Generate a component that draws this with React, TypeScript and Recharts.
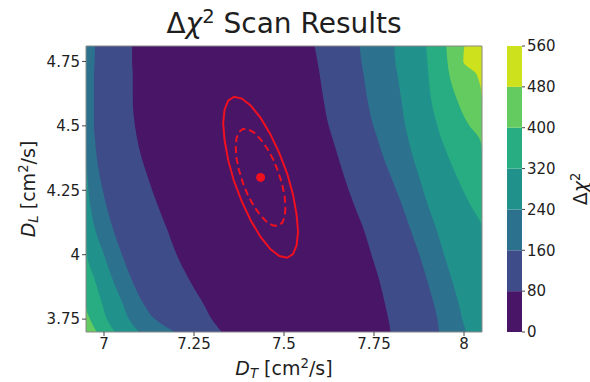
import { ComposedChart, Area, XAxis, YAxis, ScatterChart, Scatter, ReferenceArea, BarChart, Bar } from 'recharts';

const X_MIN = 6.95;
const X_MAX = 8.05;
const Y_MIN = 3.7;
const Y_MAX = 4.81;

const dtTicks = [7, 7.25, 7.5, 7.75, 8];
const dlTicks = [3.75, 4, 4.25, 4.5, 4.75];
const levels = [0, 80, 160, 240, 320, 400, 480, 560];
const bandColors = ['#481567', '#3e4c8a', '#2c728e', '#21918c', '#27ad81', '#63cb5f', '#cde11d'];

const dlRows = [4.81, 4.75, 4.7, 4.6, 4.5, 4.45, 4.4, 4.3, 4.2, 4.1, 4.0, 3.9, 3.8, 3.75, 3.7];

// D_T of each contour edge on the left side of the valley
const left80 = [7.078, 7.078, 7.08, 7.08, 7.086, 7.092, 7.1, 7.122, 7.147, 7.175, 7.202, 7.238, 7.28, 7.299, 7.327];
const left160 = [6.975, 6.974, 6.972, 6.972, 6.972, 6.975, 6.978, 6.989, 7.005, 7.025, 7.05, 7.078, 7.114, 7.141, 7.197];
const left240 = [6.95, 6.95, 6.95, 6.95, 6.95, 6.95, 6.95, 6.954, 6.961, 6.975, 7.0, 7.025, 7.055, 7.069, 7.097];
const left320 = [6.95, 6.95, 6.95, 6.95, 6.95, 6.95, 6.95, 6.95, 6.95, 6.95, 6.953, 6.975, 6.997, 7.008, 7.03];
const left400 = [6.95, 6.95, 6.95, 6.95, 6.95, 6.95, 6.95, 6.95, 6.95, 6.95, 6.95, 6.95, 6.95, 6.961, 6.98];

// D_T of each contour edge on the right side
const right80 = [7.585, 7.593, 7.599, 7.61, 7.624, 7.635, 7.646, 7.668, 7.693, 7.721, 7.743, 7.765, 7.782, 7.79, 7.796];
const right160 = [7.71, 7.715, 7.721, 7.732, 7.748, 7.76, 7.771, 7.798, 7.826, 7.851, 7.876, 7.898, 7.918, 7.926, 7.931];
const right240 = [7.807, 7.809, 7.815, 7.826, 7.837, 7.845, 7.854, 7.876, 7.898, 7.923, 7.945, 7.967, 7.987, 7.995, 8.006];
const right320 = [7.895, 7.898, 7.901, 7.909, 7.926, 7.937, 7.951, 7.981, 8.015, 8.05, 8.05, 8.05, 8.05, 8.05, 8.05];
const right400 = [7.951, 7.954, 7.959, 7.981, 8.015, 8.043, 8.05, 8.05, 8.05, 8.05, 8.05, 8.05, 8.05, 8.05, 8.05];
const right480 = [8.001, 7.998, 8.035, 8.05, 8.05, 8.05, 8.05, 8.05, 8.05, 8.05, 8.05, 8.05, 8.05, 8.05, 8.05];

const bestFit = [{ x: 7.435, y: 4.3 }];

const solidEllipse = [
  { x: 7.539, y: 4.089 }, { x: 7.535, y: 4.036 }, { x: 7.525, y: 4.002 }, { x: 7.509, y: 3.988 },
  { x: 7.487, y: 3.995 }, { x: 7.462, y: 4.022 }, { x: 7.435, y: 4.069 }, { x: 7.408, y: 4.132 },
  { x: 7.383, y: 4.206 }, { x: 7.361, y: 4.286 }, { x: 7.345, y: 4.367 }, { x: 7.335, y: 4.444 },
  { x: 7.331, y: 4.511 }, { x: 7.335, y: 4.564 }, { x: 7.345, y: 4.598 }, { x: 7.361, y: 4.613 },
  { x: 7.383, y: 4.606 }, { x: 7.408, y: 4.578 }, { x: 7.435, y: 4.531 }, { x: 7.462, y: 4.468 },
  { x: 7.487, y: 4.394 }, { x: 7.509, y: 4.314 }, { x: 7.525, y: 4.233 }, { x: 7.535, y: 4.156 },
];

const dashedEllipse = [
  { x: 7.504, y: 4.183 }, { x: 7.502, y: 4.148 }, { x: 7.495, y: 4.124 }, { x: 7.484, y: 4.112 },
  { x: 7.47, y: 4.113 }, { x: 7.453, y: 4.126 }, { x: 7.435, y: 4.152 }, { x: 7.417, y: 4.187 },
  { x: 7.4, y: 4.23 }, { x: 7.386, y: 4.278 }, { x: 7.375, y: 4.328 }, { x: 7.368, y: 4.375 },
  { x: 7.366, y: 4.417 }, { x: 7.368, y: 4.452 }, { x: 7.375, y: 4.476 }, { x: 7.386, y: 4.488 },
  { x: 7.4, y: 4.487 }, { x: 7.417, y: 4.474 }, { x: 7.435, y: 4.448 }, { x: 7.453, y: 4.413 },
  { x: 7.47, y: 4.37 }, { x: 7.484, y: 4.322 }, { x: 7.495, y: 4.273 }, { x: 7.502, y: 4.225 },
];

const RED = '#f01020';
const TEXT = '#1e1e1e';

const rows = dlRows.map((y, i) => ({
  y,
  bg: [X_MIN, X_MAX],
  l80: [X_MIN, left80[i]],
  r80: [right80[i], X_MAX],
  l160: [X_MIN, left160[i]],
  r160: [right160[i], X_MAX],
  l240: [X_MIN, left240[i]],
  r240: [right240[i], X_MAX],
  l320: [X_MIN, left320[i]],
  r320: [right320[i], X_MAX],
  l400: [X_MIN, left400[i]],
  r400: [right400[i], X_MAX],
  r480: [right480[i], X_MAX],
}));

// painted bottom-up, each layer covers the region above its level
const layers = [
  { key: 'bg', color: bandColors[0] },
  { key: 'l80', color: bandColors[1] },
  { key: 'r80', color: bandColors[1] },
  { key: 'l160', color: bandColors[2] },
  { key: 'r160', color: bandColors[2] },
  { key: 'l240', color: bandColors[3] },
  { key: 'r240', color: bandColors[3] },
  { key: 'l320', color: bandColors[4] },
  { key: 'r320', color: bandColors[4] },
  { key: 'l400', color: bandColors[5] },
  { key: 'r400', color: bandColors[5] },
  { key: 'r480', color: bandColors[6] },
];

const cbRow: Record<string, number | string> = { name: 'cb' };
levels.slice(1).forEach((lv, i) => {
  cbRow['b' + i] = lv - levels[i];
});

const noShape = () => <g />;

export default function App() {
  const tickStyle = { fontSize: 15, fill: TEXT };
  return (
    <div style={{ position: 'absolute', left: 0, top: 0, width: 590, height: 382, background: '#fff', fontFamily: 'DejaVu Sans', color: TEXT, overflow: 'hidden' }}>
      <div style={{ position: 'absolute', left: 0, top: 7, width: 568, textAlign: 'center', fontSize: 28, lineHeight: 'normal', whiteSpace: 'nowrap' }}>
        Δ<i>χ</i><span style={{ fontSize: '0.7em', position: 'relative', top: '-0.5em' }}>2</span> Scan Results
      </div>

      <div style={{ position: 'absolute', left: 0, top: 0 }}>
        <ComposedChart width={490} height={382} layout="vertical" data={rows} margin={{ top: 46, right: 8, bottom: 50, left: 86 }}>
          <XAxis type="number" domain={[X_MIN, X_MAX]} allowDataOverflow hide />
          <YAxis type="number" dataKey="y" domain={[Y_MIN, Y_MAX]} allowDataOverflow reversed hide />
          {layers.map((l) => (
            <Area
              key={l.key}
              dataKey={l.key}
              type="monotone"
              stroke="none"
              fill={l.color}
              fillOpacity={1}
              dot={false}
              activeDot={false}
              isAnimationActive={false}
            />
          ))}
        </ComposedChart>
      </div>

      <div style={{ position: 'absolute', left: 0, top: 0 }}>
        <ScatterChart width={490} height={382} margin={{ top: 46, right: 8, bottom: 0, left: 0 }}>
          <XAxis type="number" dataKey="x" domain={[X_MIN, X_MAX]} allowDataOverflow ticks={dtTicks} interval={0} height={50} tickSize={4} tickMargin={2} axisLine={false} tick={tickStyle} tickLine={{ stroke: '#444' }} />
          <YAxis type="number" dataKey="y" domain={[Y_MIN, Y_MAX]} allowDataOverflow ticks={dlTicks} interval={0} width={86} tickSize={4} tickMargin={2} axisLine={false} tick={tickStyle} tickLine={{ stroke: '#444' }} />
          <ReferenceArea x1={X_MIN} x2={X_MAX} y1={Y_MIN} y2={Y_MAX} fill="none" stroke="#888" strokeWidth={1} ifOverflow="visible" />
          <Scatter data={[...solidEllipse, solidEllipse[0]]} line={{ stroke: RED, strokeWidth: 2 }} shape={noShape} fill={RED} isAnimationActive={false} />
          <Scatter data={[...dashedEllipse, dashedEllipse[0]]} line={{ stroke: RED, strokeWidth: 2, strokeDasharray: '7 4' }} shape={noShape} fill={RED} isAnimationActive={false} />
          <Scatter data={bestFit} fill={RED} isAnimationActive={false} />
        </ScatterChart>
      </div>

      <div style={{ position: 'absolute', left: 500, top: 0 }}>
        <BarChart width={60} height={382} data={[cbRow]} margin={{ top: 46, right: 0, bottom: 50, left: 7 }} barCategoryGap={0}>
          <XAxis dataKey="name" hide />
          <YAxis orientation="right" type="number" domain={[0, 560]} ticks={levels} interval={0} width={38} tickSize={3} tickMargin={2} axisLine={false} tick={tickStyle} tickLine={{ stroke: '#444' }} />
          {bandColors.map((c, i) => (
            <Bar key={c} dataKey={'b' + i} stackId="cb" fill={c} isAnimationActive={false} />
          ))}
        </BarChart>
      </div>

      <div style={{ position: 'absolute', left: 284, top: 357, transform: 'translateX(-50%)', fontSize: 19, whiteSpace: 'nowrap' }}>
        <i>D</i><i style={{ fontSize: '0.7em', position: 'relative', top: '0.25em' }}>T</i> [cm<span style={{ fontSize: '0.7em', position: 'relative', top: '-0.5em' }}>2</span>/s]
      </div>

      <div style={{ position: 'absolute', left: 28, top: 189, transform: 'translate(-50%, -50%) rotate(-90deg)', fontSize: 19, whiteSpace: 'nowrap' }}>
        <i>D</i><i style={{ fontSize: '0.7em', position: 'relative', top: '0.25em' }}>L</i> [cm<span style={{ fontSize: '0.7em', position: 'relative', top: '-0.5em' }}>2</span>/s]
      </div>

      <div style={{ position: 'absolute', left: 580, top: 189, transform: 'translate(-50%, -50%) rotate(-90deg)', fontSize: 19, whiteSpace: 'nowrap' }}>
        Δ<i>χ</i><span style={{ fontSize: '0.7em', position: 'relative', top: '-0.5em' }}>2</span>
      </div>
    </div>
  );
}
